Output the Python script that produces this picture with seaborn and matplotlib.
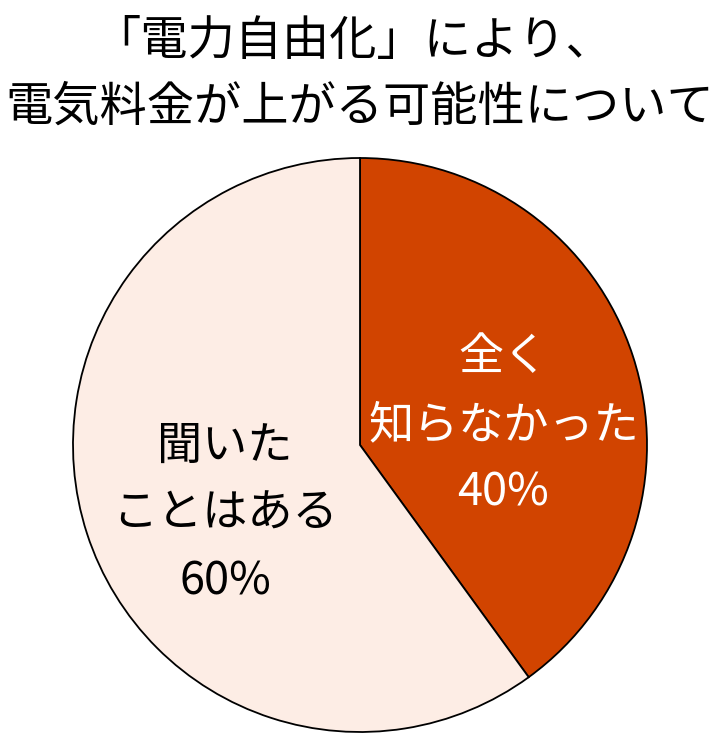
import matplotlib.pyplot as plt
import seaborn as sns

# data
title_lines = ['「電力自由化」により、', '電気料金が上がる可能性について']
labels = ['全く\n知らなかった', '聞いた\nことはある']
values = [40, 60]
colors = ['#D14400', '#FDEDE5']
text_colors = ['white', 'black']

sns.set_theme(style='white')
plt.rcParams['font.family'] = ['Noto Sans CJK JP', 'DejaVu Sans']

fig = plt.figure(figsize=(7.2, 7.49), dpi=100)
ax = fig.add_axes([73 / 720, 17 / 749, 574 / 720, 574 / 749])

ax.pie(values, colors=colors, startangle=90, counterclock=False, radius=1,
       wedgeprops=dict(edgecolor='black', linewidth=1.3))
ax.set_xlim(-1, 1)
ax.set_ylim(-1, 1)
ax.set_aspect('equal')
ax.axis('off')

# label positions inside each wedge
label_pos = [(0.50, 0.07), (-0.47, -0.24)]
for lab, val, tc, (x, y) in zip(labels, values, text_colors, label_pos):
    ax.text(x, y, f'{lab}\n{val}%', ha='center', va='center', color=tc,
            fontsize=32.5, linespacing=1.6)

fig.text(0.49, 1 - 42 / 749, title_lines[0], ha='center', va='center', fontsize=34, color='black')
fig.text(0.5, 1 - 107 / 749, title_lines[1], ha='center', va='center', fontsize=34, color='black')

fig.savefig('out.png', dpi=100)
